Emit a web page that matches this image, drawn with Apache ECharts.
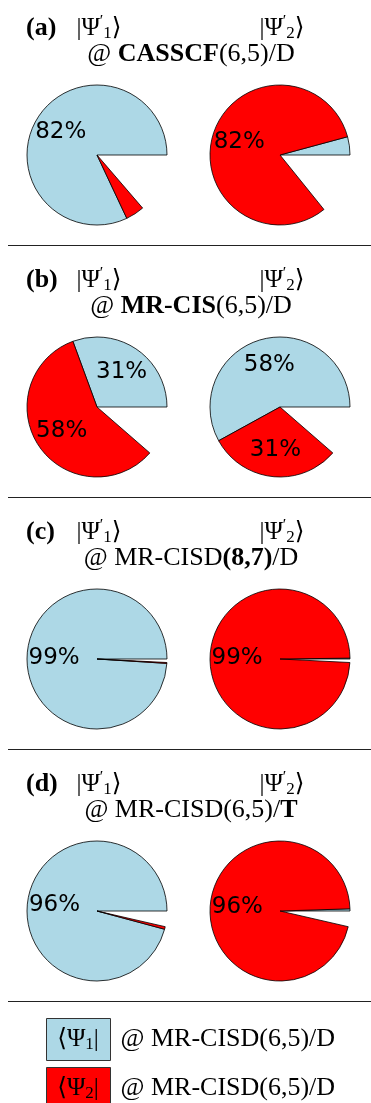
<!DOCTYPE html>
<html><head><meta charset="utf-8">
<script src="https://cdn.jsdelivr.net/npm/echarts@6/dist/echarts.min.js"></script>
<style>html,body{margin:0;padding:0;background:#fff}#c{width:371px;height:1103px}</style>
</head><body><div id="c"></div>
<script>
// ---- data ----
const panelTags = ['(a)', '(b)', '(c)', '(d)'];
const methodLines = [
  '{r|@ }{b|CASSCF}{r|(6,5)/D}',
  '{r|@ }{b|MR-CIS}{r|(6,5)/D}',
  '{r|@ MR-CISD}{b|(8,7)}{r|/D}',
  '{r|@ MR-CISD(6,5)/}{b|T}'
];
// overlap (%) of |Ψ'1> (left pie) and |Ψ'2> (right pie) with <Ψ1| and <Ψ2|
const leftPsi1  = [82.0, 30.6, 99.0, 95.8];
const leftPsi2  = [4.3, 58.0, 0.2, 0.6];
const rightPsi1 = [4.2, 58.0, 0.2, 0.5];
const rightPsi2 = [81.6, 30.6, 99.0, 95.9];
const legendNames = ['Ψ1', 'Ψ2'];
const legendMethod = '@ MR-CISD(6,5)/D';
const labelMin = 10;

// ---- style / layout ----
const BLUE = '#ADD8E6', RED = '#FF0000';
const SERIF = '"Liberation Serif", "DejaVu Serif", serif';
const FS = 25;
const R = 70, PANEL_H = 252, CY0 = 155, CX = [97, 280];
const TITLE_Y1 = 28, TITLE_Y2 = 54, LINE_Y = 245;

const rich = {
  r: {fontFamily: SERIF, fontSize: FS, lineHeight: 28, color: '#000', verticalAlign: 'middle'},
  m: {fontFamily: SERIF, fontSize: 26, lineHeight: 28, color: '#000', verticalAlign: 'middle'},
  b: {fontFamily: SERIF, fontSize: 26, lineHeight: 28, fontWeight: 'bold', color: '#000', verticalAlign: 'middle'},
  p: {fontFamily: SERIF, fontSize: 16, lineHeight: 16, color: '#000', verticalAlign: 'top'},
  s: {fontFamily: SERIF, fontSize: 17, lineHeight: 17, color: '#000', verticalAlign: 'bottom'}
};
const richLine = Object.assign({}, rich, {r: rich.m});

function pieData(v1, v2, forLabel) {
  const rest = Math.max(0, 100 - v1 - v2);
  const pre = forLabel ? 'L' : '';
  const clear = 'rgba(0,0,0,0)';
  return [
    {name: pre + legendNames[0], value: v1, itemStyle: {color: forLabel ? clear : BLUE}},
    {name: pre + legendNames[1], value: v2, itemStyle: {color: forLabel ? clear : RED}},
    {name: pre + 'rest', value: rest, itemStyle: {color: clear, borderWidth: 0}, label: {show: false}}
  ];
}

const series = [];
const graphic = [];
panelTags.forEach((tag, i) => {
  const cy = CY0 + PANEL_H * i;
  const off = PANEL_H * i;
  [[leftPsi1[i], leftPsi2[i]], [rightPsi1[i], rightPsi2[i]]].forEach((vals, s) => {
    series.push({
      type: 'pie', center: [CX[s], cy], radius: [0, R],
      startAngle: 0, clockwise: false, silent: true, animation: false,
      label: {show: false}, labelLine: {show: false},
      itemStyle: {borderColor: '#000', borderWidth: 0.8},
      emphasis: {disabled: true},
      data: pieData(vals[0], vals[1], false)
    });
    // transparent copy so that 'inside' labels sit at ~0.57R
    series.push({
      type: 'pie', center: [CX[s], cy], radius: [0, R * 1.14],
      startAngle: 0, clockwise: false, silent: true, animation: false,
      itemStyle: {borderWidth: 0},
      emphasis: {disabled: true},
      label: {
        show: true, position: 'inside', color: '#000',
        fontFamily: '"DejaVu Sans", sans-serif', fontSize: 23,
        formatter: p => (p.value >= labelMin ? Math.round(p.value) + '%' : '')
      },
      labelLine: {show: false},
      data: pieData(vals[0], vals[1], true)
    });
  });
  graphic.push({type: 'text', silent: true, z: 100, style: {
    text: '{b|' + tag + '}', rich, x: 26, y: TITLE_Y1 + off, textAlign: 'left', textVerticalAlign: 'middle'}});
  ['1', '2'].forEach((k, s) => {
    graphic.push({type: 'text', silent: true, z: 100, style: {
      text: '{r||Ψ}{p|′}{s|' + k + '}{r|⟩}', rich, x: CX[s] + 2, y: TITLE_Y1 + off,
      textAlign: 'center', textVerticalAlign: 'middle'}});
  });
  graphic.push({type: 'text', silent: true, z: 100, style: {
    text: methodLines[i], rich: richLine, x: 191, y: TITLE_Y2 + off, textAlign: 'center', textVerticalAlign: 'middle'}});
  graphic.push({type: 'line', silent: true, z: 100,
    shape: {x1: 8, y1: LINE_Y + off + 0.5, x2: 371, y2: LINE_Y + off + 0.5},
    style: {stroke: '#222', lineWidth: 1}});
});
// bra labels inside the legend boxes
legendNames.forEach((n, k) => {
  graphic.push({type: 'text', silent: true, z: 100, style: {
    text: '{r|⟨Ψ}{s|' + (k + 1) + '}{r||}', rich, x: 78, y: 1039 + 49 * k,
    textAlign: 'center', textVerticalAlign: 'middle'}});
});

const legends = legendNames.map((n, k) => ({
  data: [n], orient: 'vertical', left: 46, top: 1018 + 49 * k, padding: 0,
  itemWidth: 64, itemHeight: 42, icon: 'rect', selectedMode: false,
  itemStyle: {borderColor: '#333', borderWidth: 1},
  formatter: () => legendMethod,
  textStyle: {fontFamily: SERIF, fontSize: 26, color: '#000', padding: [0, 0, 0, 5]}
}));

const chart = echarts.init(document.getElementById('c'), null, {renderer: 'canvas'});
chart.setOption({
  animation: false,
  backgroundColor: '#fff',
  legend: legends,
  series,
  graphic: {elements: graphic}
});
</script></body></html>
